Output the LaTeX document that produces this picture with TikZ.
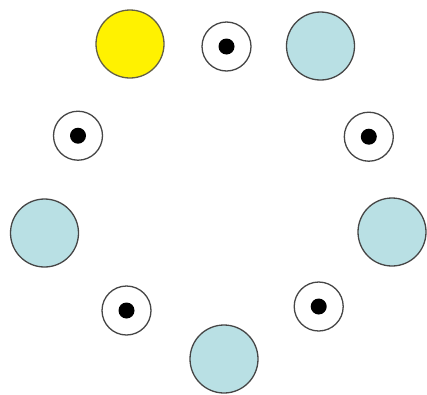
\documentclass[tikz,border=0pt]{standalone}
\definecolor{pblue}{RGB}{185,224,228}
\definecolor{ring}{RGB}{70,70,70}
\tikzset{
  big/.style={circle, draw=ring, line width=1.3pt, minimum size=68pt, inner sep=0pt, fill=pblue},
  small/.style={circle, draw=ring, line width=1.3pt, minimum size=49pt, inner sep=0pt, fill=white},
  dot/.style={circle, fill=black, minimum size=16pt, inner sep=0pt}
}
\begin{document}
\begin{tikzpicture}[x=1pt,y=-1pt]
\useasboundingbox (0,0) rectangle (427,394);
\node[big, fill=yellow, draw=black!70!yellow] (y) at (130,44) {};
\node[big] (b1) at (320.5,46) {};
\node[big] (b2) at (44.5,233) {};
\node[big] (b3) at (392,232) {};
\node[big] (b4) at (224,359) {};
\node[small] (s1) at (226.5,46.5) {};
\node[dot] (d1) at (s1.center) {};
\node[small] (s2) at (78,135.7) {};
\node[dot] (d2) at (s2.center) {};
\node[small] (s3) at (368.8,136.7) {};
\node[dot] (d3) at (s3.center) {};
\node[small] (s4) at (126.5,310.5) {};
\node[dot] (d4) at (s4.center) {};
\node[small] (s5) at (318.7,306.5) {};
\node[dot] (d5) at (s5.center) {};
\end{tikzpicture}
\end{document}
